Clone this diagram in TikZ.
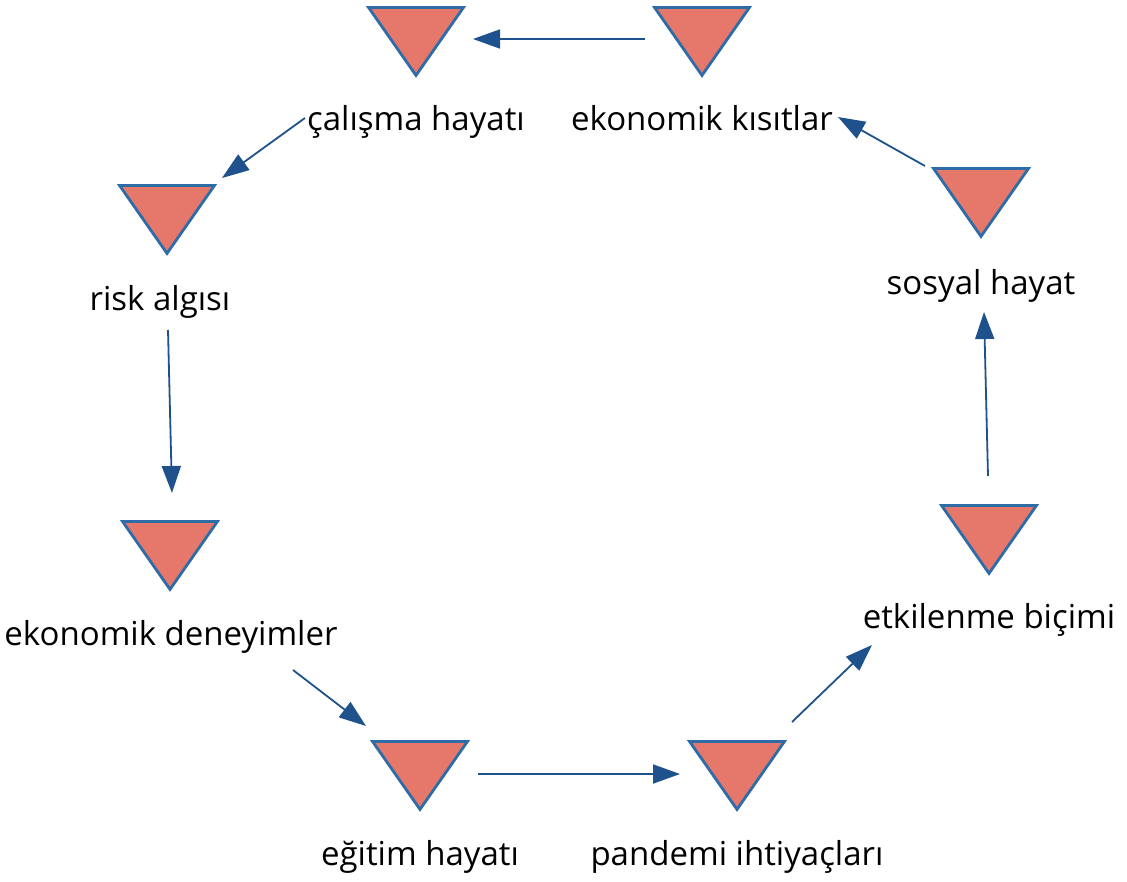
\documentclass[tikz,border=0pt]{standalone}
\usepackage{fontspec}
\setmainfont{Open Sans}
\usetikzlibrary{shapes.geometric,arrows.meta}
\definecolor{trifill}{RGB}{229,120,107}
\definecolor{triline}{RGB}{46,108,168}
\definecolor{arrowblue}{RGB}{31,82,140}

\begin{document}
\begin{tikzpicture}[x=1pt,y=-1pt,
	tri/.style={isosceles triangle, isosceles triangle apex angle=70,
		isosceles triangle stretches, shape border rotate=270,
		minimum width=95pt, minimum height=68pt, inner sep=0pt,
		fill=trifill, draw=triline, line width=2.8pt, anchor=lower side},
	lbl/.style={anchor=base, inner sep=0pt, font=\fontsize{33}{38}\selectfont},
	arr/.style={draw=arrowblue, line width=1.8pt, -{Triangle[length=27pt,width=19pt]}}]
	% pixel coordinates, y goes down
	\useasboundingbox (0,0) rectangle (1127,881);
	% triangles, placed by the middle of the top side
	\node[tri] (t1) at (416,6) {};
	\node[tri] (t2) at (702,6) {};
	\node[tri] (t3) at (167,184) {};
	\node[tri] (t4) at (170,520) {};
	\node[tri] (t5) at (420,740) {};
	\node[tri] (t6) at (737,740) {};
	\node[tri] (t7) at (989,504) {};
	\node[tri] (t8) at (981,167) {};
	% labels, placed by their base line
	\node[lbl] (l1) at (416,130) {çalışma hayatı};
	\node[lbl] (l2) at (702,130) {ekonomik kısıtlar};
	\node[lbl] (l3) at (160,310) {risk algısı};
	\node[lbl] (l4) at (171,645) {ekonomik deneyimler};
	\node[lbl] (l5) at (420,865) {eğitim hayatı};
	\node[lbl] (l6) at (737,865) {pandemi ihtiyaçları};
	\node[lbl] (l7) at (989,628) {etkilenme biçimi};
	\node[lbl] (l8) at (981,294) {sosyal hayat};
	% the cycle of arrows
	\draw[arr] ([shift={(-57,33)}]t2.lower side) -- ([shift={(57,33)}]t1.lower side);
	\draw[arr] ([shift={(-2,-12)}]l1.base west) -- ([shift={(55,-6)}]t3.lower side);
	\draw[arr] ([shift={(8,20)}]l3.base) -- ([shift={(2,-27)}]t4.lower side);
	\draw[arr] ([shift={(122,25)}]l4.base) -- ([shift={(-54,-14)}]t5.lower side);
	\draw[arr] ([shift={(58,34)}]t5.lower side) -- ([shift={(-57,34)}]t6.lower side);
	\draw[arr] ([shift={(55,-18)}]t6.lower side) -- ([shift={(-117,17)}]l7.base);
	\draw[arr] ([shift={(-1,-28)}]t7.lower side) -- ([shift={(3,18)}]l8.base);
	\draw[arr] ([shift={(-56,-1)}]t8.lower side) -- ([shift={(136,-13)}]l2.base);
\end{tikzpicture}
\end{document}
